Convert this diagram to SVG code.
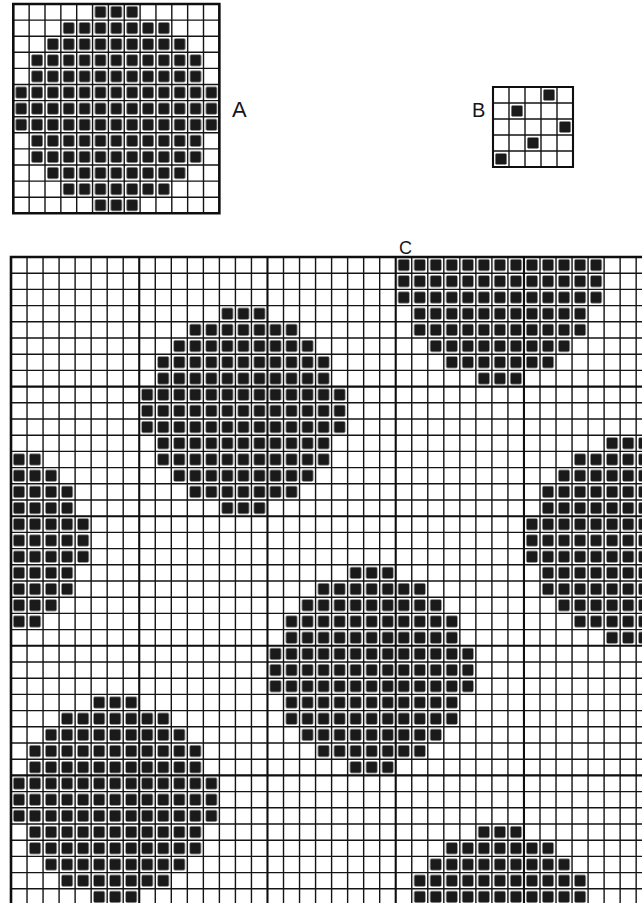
<svg xmlns="http://www.w3.org/2000/svg" xmlns:xlink="http://www.w3.org/1999/xlink" width="642" height="903" viewBox="0 0 642 903">
<style>
.ln{fill:none;stroke:#141414;stroke-width:1.4;vector-effect:non-scaling-stroke}
.mj{fill:none;stroke:#0e0e0e;stroke-width:2.1;vector-effect:non-scaling-stroke}
.bd{fill:none;stroke:#0e0e0e;stroke-width:2.6;vector-effect:non-scaling-stroke}
.lbl{font-family:"Liberation Sans",Arial,sans-serif;fill:#161616;font-weight:normal}
</style>
<defs>
<pattern id="sq" patternUnits="userSpaceOnUse" width="1" height="1">
<rect x="0.15" y="0.15" width="0.7" height="0.7" rx="0.08" fill="#1a1a1a"/>
</pattern>
<path id="disk" fill="url(#sq)" d="M-1 -6H2V-5H4V-4H5V-3H6V-1H7V2H6V4H5V5H4V6H2V7H-1V6H-3V5H-4V4H-5V2H-6V-1H-5V-3H-4V-4H-3V-5H-1Z"/>
<clipPath id="clipC" clipPathUnits="userSpaceOnUse"><rect x="11" y="257" width="640" height="660"/></clipPath>
</defs>
<rect width="642" height="903" fill="#fff"/>

<g id="grid-a">
<g transform="translate(13.3,4) scale(15.85,16.1)">
<use xlink:href="#disk" href="#disk" x="6" y="6"/>
<path class="ln" d="M1 0V13M2 0V13M3 0V13M4 0V13M5 0V13M6 0V13M7 0V13M8 0V13M9 0V13M10 0V13M11 0V13M12 0V13M0 1H13M0 2H13M0 3H13M0 4H13M0 5H13M0 6H13M0 7H13M0 8H13M0 9H13M0 10H13M0 11H13M0 12H13"/>
<rect class="bd" x="0" y="0" width="13" height="13"/>
</g>
<text class="lbl" x="232" y="117" font-size="22">A</text>
</g>

<g id="grid-b">
<g transform="translate(493,87) scale(16,16)">
<path fill="url(#sq)" d="M3 0h1v1h-1zM1 1h1v1h-1zM4 2h1v1h-1zM2 3h1v1h-1zM0 4h1v1h-1z"/>
<path class="ln" d="M1 0V5M2 0V5M3 0V5M4 0V5M0 1H5M0 2H5M0 3H5M0 4H5"/>
<rect class="mj" x="0" y="0" width="5" height="5"/>
</g>
<text class="lbl" x="472" y="117" font-size="20">B</text>
</g>

<g id="grid-c">
<g clip-path="url(#clipC)">
<g transform="translate(11,257) scale(16.03,16.2)">
<use xlink:href="#disk" href="#disk" x="30" y="1"/>
<use xlink:href="#disk" href="#disk" x="14" y="9"/>
<use xlink:href="#disk" href="#disk" x="-2" y="17"/>
<use xlink:href="#disk" href="#disk" x="38" y="17"/>
<use xlink:href="#disk" href="#disk" x="22" y="25"/>
<use xlink:href="#disk" href="#disk" x="6" y="33"/>
<use xlink:href="#disk" href="#disk" x="30" y="41"/>
</g>
</g>
<g transform="translate(11,257) scale(16.03,16.2)">
<path class="ln" d="M1 0V41M2 0V41M3 0V41M4 0V41M5 0V41M6 0V41M7 0V41M9 0V41M10 0V41M11 0V41M12 0V41M13 0V41M14 0V41M15 0V41M17 0V41M18 0V41M19 0V41M20 0V41M21 0V41M22 0V41M23 0V41M25 0V41M26 0V41M27 0V41M28 0V41M29 0V41M30 0V41M31 0V41M33 0V41M34 0V41M35 0V41M36 0V41M37 0V41M38 0V41M39 0V41M40 0V41M0 1H41M0 2H41M0 3H41M0 4H41M0 5H41M0 6H41M0 7H41M0 9H41M0 10H41M0 11H41M0 12H41M0 13H41M0 14H41M0 15H41M0 17H41M0 18H41M0 19H41M0 20H41M0 21H41M0 22H41M0 23H41M0 25H41M0 26H41M0 27H41M0 28H41M0 29H41M0 30H41M0 31H41M0 33H41M0 34H41M0 35H41M0 36H41M0 37H41M0 38H41M0 39H41M0 40H41"/>
<path class="mj" d="M8 0V41M16 0V41M24 0V41M32 0V41M0 8H41M0 16H41M0 24H41M0 32H41"/>
<path class="bd" d="M0 41V0H41"/>
</g>
<text class="lbl" x="399" y="254" font-size="18">C</text>
</g>
</svg>
